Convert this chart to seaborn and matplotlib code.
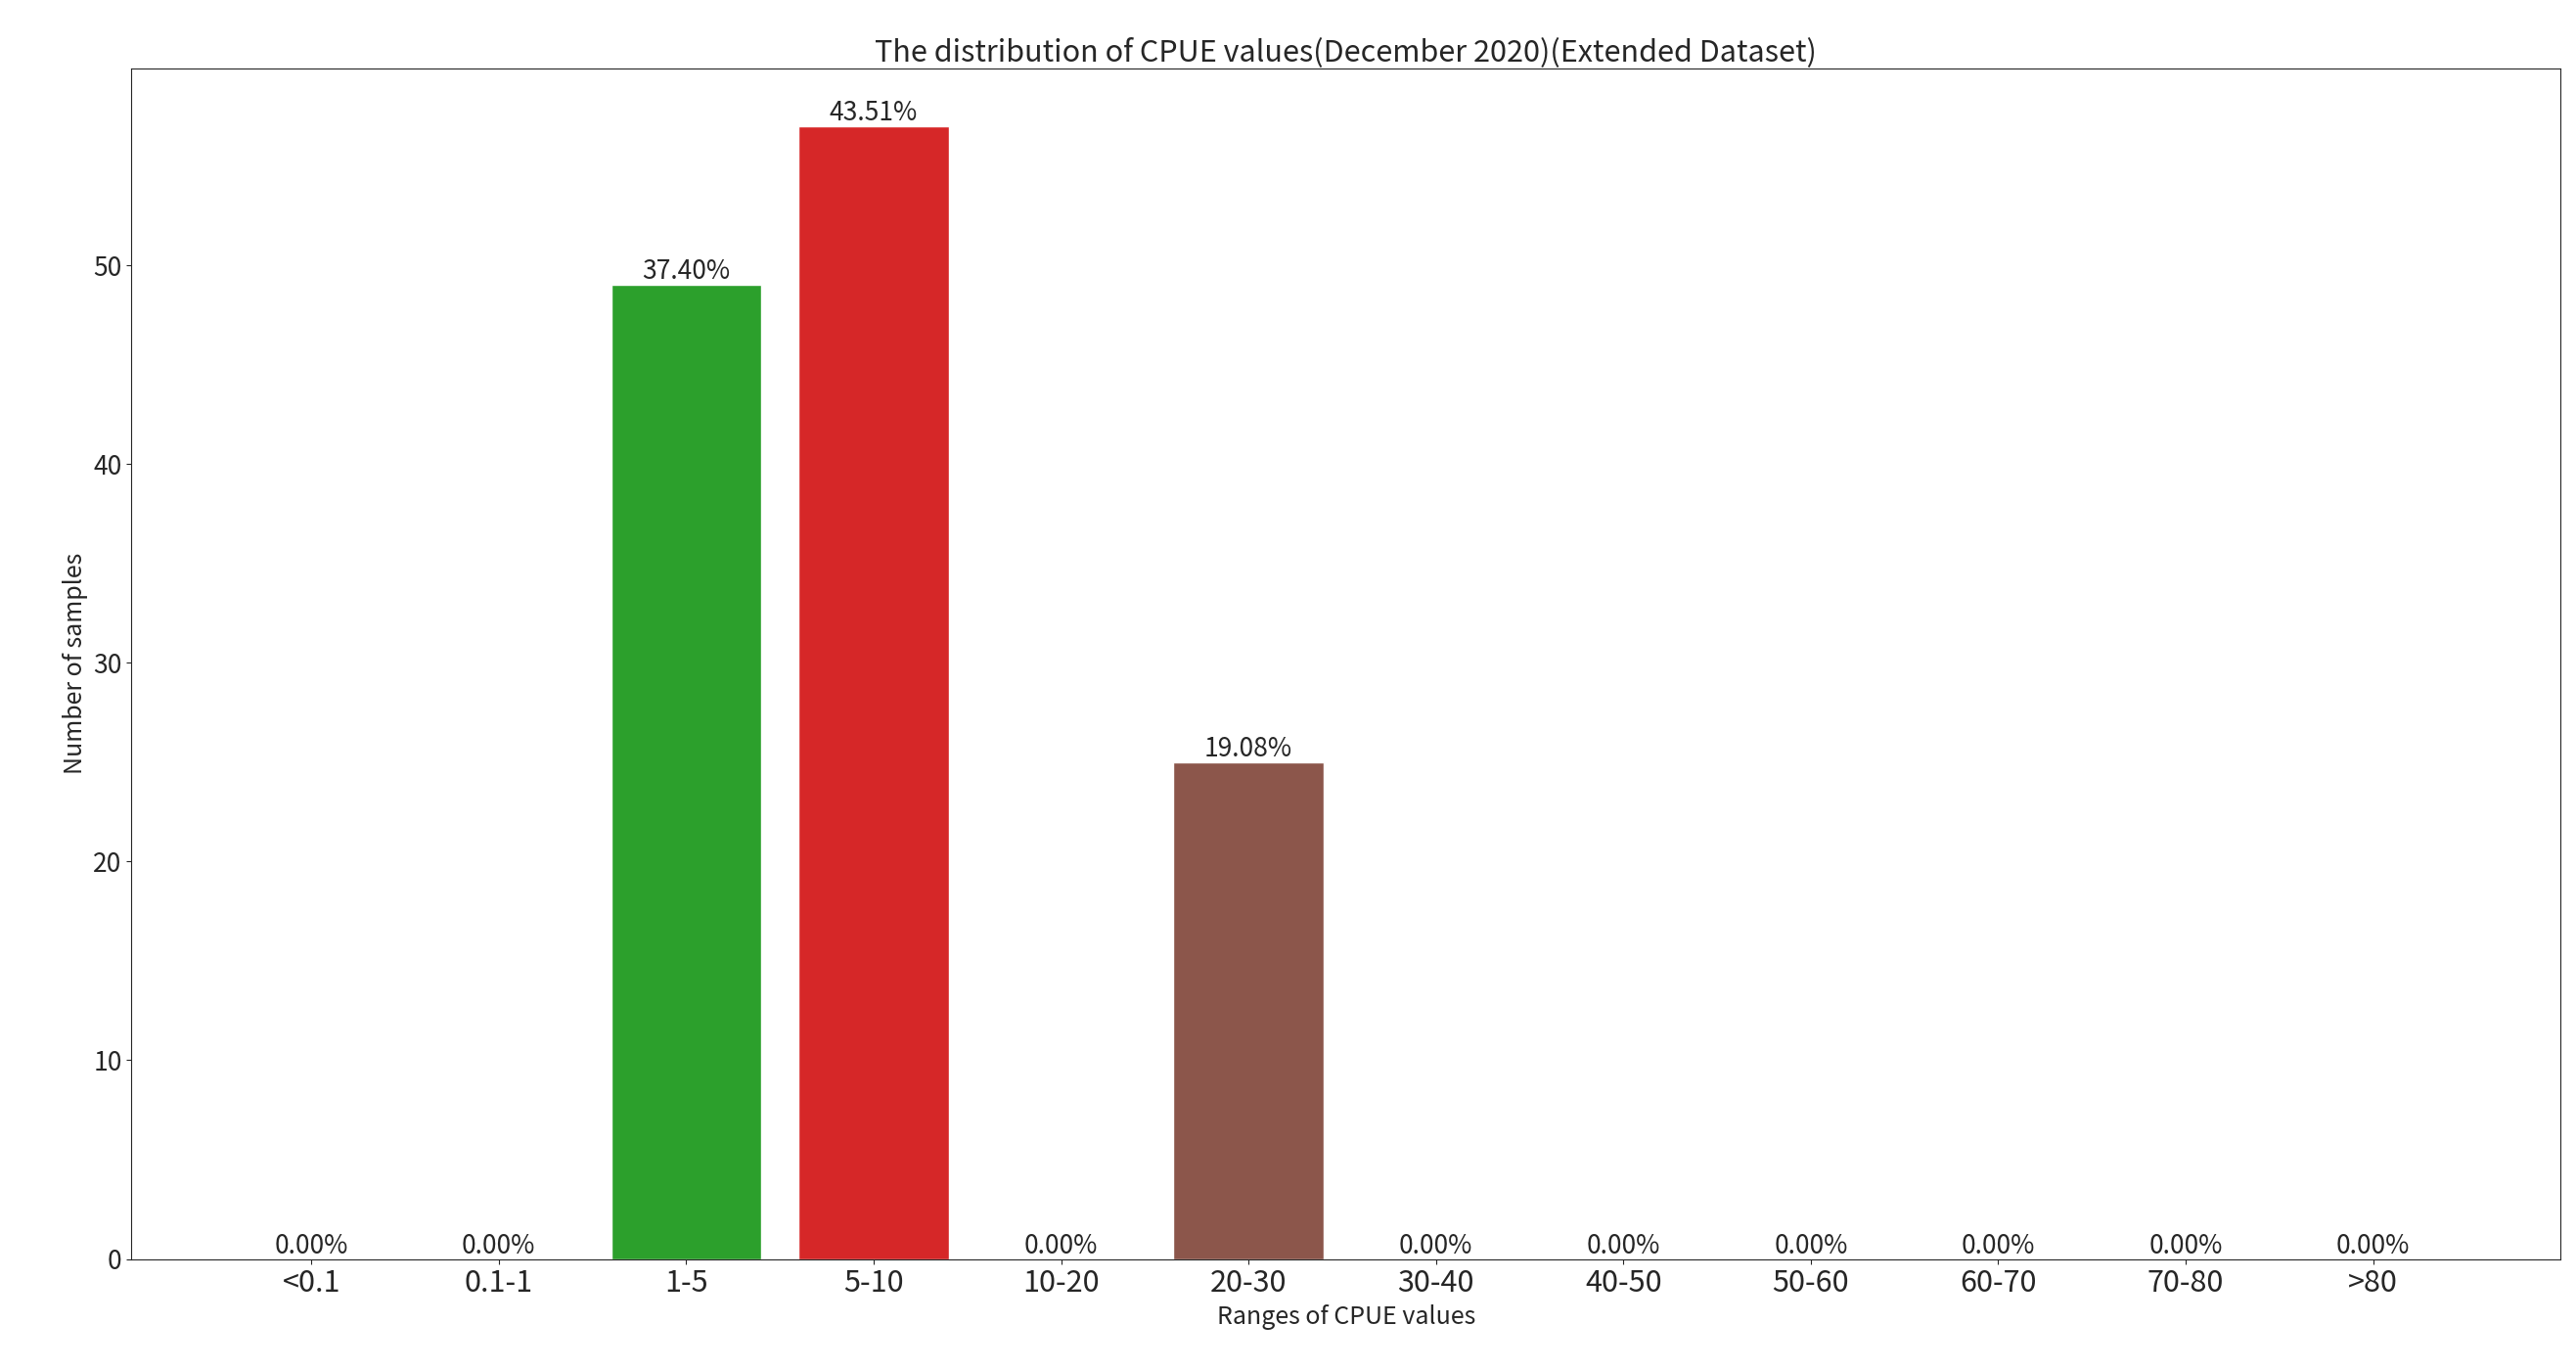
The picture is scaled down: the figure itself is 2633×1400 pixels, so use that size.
import matplotlib
matplotlib.use("Agg")
import matplotlib.pyplot as plt
import seaborn as sns
import pandas as pd

ranges = ["<0.1", "0.1-1", "1-5", "5-10", "10-20", "20-30", "30-40",
          "40-50", "50-60", "60-70", "70-80", ">80"]
counts = [0, 0, 49, 57, 0, 25, 0, 0, 0, 0, 0, 0]

sns.set_style("ticks")
plt.rcParams["font.family"] = ["Noto Sans CJK SC", "DejaVu Sans"]

df = pd.DataFrame({"range": ranges, "count": counts})
total = sum(counts)

fig, ax = plt.subplots(figsize=(26.33, 14), dpi=100)
sns.barplot(data=df, x="range", y="count", hue="range", palette="tab10",
            legend=False, width=0.8, saturation=1, ax=ax)

for i, c in enumerate(counts):
    ax.text(i, c, f"{c / total * 100:.2f}%", ha="center", va="bottom", fontsize=19)

ax.set_xlim(-0.96, 12.0)
ax.set_ylim(0, 59.9)
ax.set_title("The distribution of CPUE values(December 2020)(Extended Dataset)", fontsize=22)
ax.set_xlabel("Ranges of CPUE values", fontsize=18)
ax.set_ylabel("Number of samples", fontsize=18)
ax.tick_params(axis="x", labelsize=22)
ax.tick_params(axis="y", labelsize=19)
for s in ax.spines.values():
    s.set_visible(True)

plt.subplots_adjust(left=0.051, right=0.994, top=0.95, bottom=0.081)
plt.savefig("out.png")
